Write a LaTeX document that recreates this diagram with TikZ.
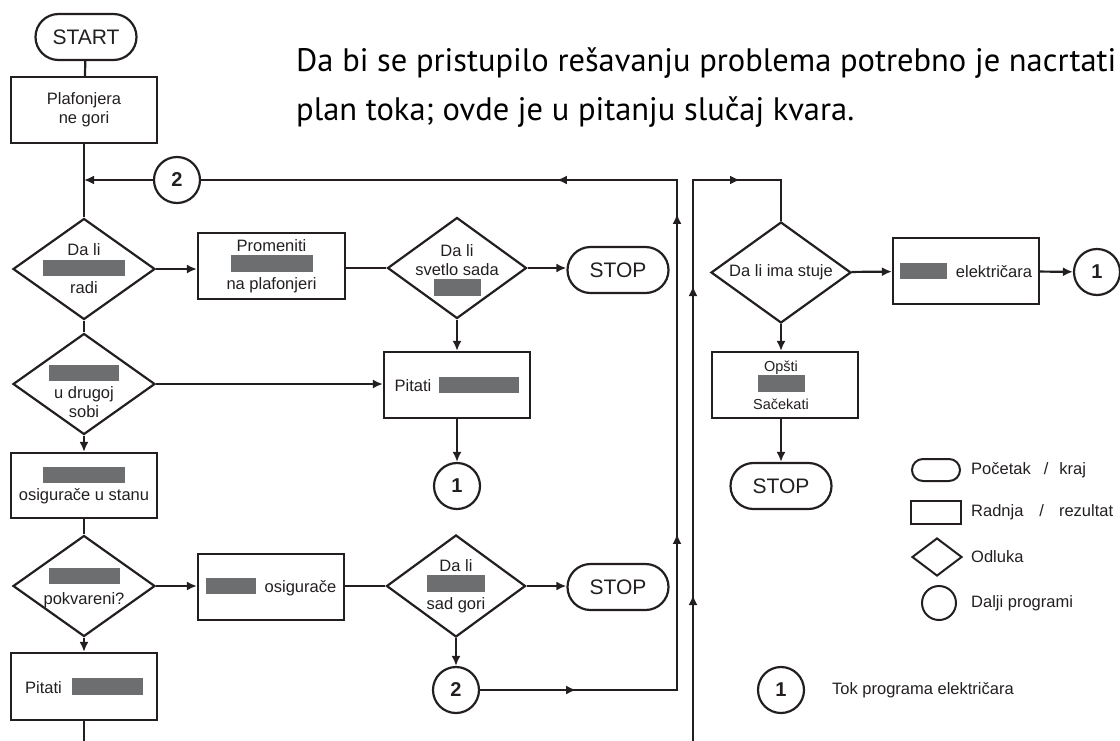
\documentclass[tikz,border=0pt]{standalone}
\usepackage{fontspec}
\setmainfont{Liberation Sans}
\newfontfamily\titlefont{PT Sans}
\usetikzlibrary{shapes.geometric,shapes.misc,arrows.meta,decorations.markings}
\definecolor{ink}{HTML}{231F20}
\definecolor{bargray}{HTML}{6D6E70}
\newcommand{\gbar}[1]{\textcolor{bargray}{\rule[-1.5pt]{#1}{16.5pt}}}
\tikzset{
  base/.style={draw=ink, line width=2.2pt, text=ink, inner sep=0pt, font=\fontsize{16.5}{19}\selectfont, align=center},
  box/.style={base, rectangle, minimum width=146pt, minimum height=66pt},
  dia/.style={base, diamond, minimum width=142pt, minimum height=101pt},
  term/.style={base, rounded rectangle, minimum width=101pt, minimum height=46pt, font=\fontsize{21}{24}\selectfont},
  conn/.style={base, circle, minimum size=46pt, font=\bfseries\fontsize{20}{24}\selectfont},
  dtext/.style={text=ink, inner sep=0pt, align=center, font=\fontsize{16.5}{19}\selectfont},
  conline/.style={draw=ink, line width=2.2pt},
  arr/.style={conline, -{Latex[length=10pt,width=9pt]}},
  midarrows/.style={postaction={decorate}, decoration={markings, #1}},
  leg/.style={text=ink, anchor=west, inner sep=0pt, font=\fontsize{16.5}{19}\selectfont},
  legshape/.style={draw=ink, line width=2pt, inner sep=0pt},
}
\newcommand{\midtip}{\arrow{Latex[length=10pt,width=9pt]}}
\begin{document}
\begin{tikzpicture}[x=1pt,y=-1pt]
\useasboundingbox (0,0) rectangle (1120,740);
% title
\node[anchor=north west, inner sep=0pt, align=left, text=black, font=\titlefont\fontsize{32.5}{48.5}\selectfont] (title) at (296,48)
  {Da bi se pristupilo rešavanju problema potrebno je nacrtati\\plan toka; ovde je u pitanju slučaj kvara.};
% left column
\node[term] (start) at (86,37) {START};
\node[box] (b1) at (84,110) {Plafonjera\\ne gori};
\coordinate (j1) at (84,180);
\node[conn] (c2t) at (177,180) {2};
\node[dia, label={[dtext]center:{Da li\\\gbar{82pt}\\radi}}] (d1) at (84,269) {};
\node[dia, label={[dtext, yshift=-7.5pt]center:{\gbar{71pt}\\u drugoj\\sobi}}] (d2) at (84,384) {};
\node[box, minimum height=65pt] (b3) at (84,485.5) {\gbar{82pt}\\osigurače u stanu};
\node[dia, label={[dtext, yshift=-2pt]center:{\gbar{71pt}\\[3pt]pokvareni?}}] (d3) at (84,586) {};
\node[box, minimum height=67pt] (pit2) at (84,686.5) {Pitati\hspace{10pt}\gbar{71pt}};
\coordinate (bot1) at (84,742);
% middle column
\node[box, minimum width=147pt] (p1) at (271.5,266) {Promeniti\\\gbar{82pt}\\na plafonjeri};
\node[dia, minimum width=139pt, label={[dtext, yshift=-2pt]center:{Da li\\svetlo sada\\\gbar{47pt}}}] (d4) at (457,268) {};
\node[term] (stop1) at (618,270) {STOP};
\node[box] (pit1) at (457,385) {Pitati\hspace{8pt}\gbar{80pt}};
\node[conn] (c1) at (457,486) {1};
\node[box] (b5) at (271,587) {\gbar{50pt}\hspace{9pt}osigurače};
\node[dia, minimum width=139pt, minimum height=102pt, label={[dtext]center:{Da li\\\gbar{58pt}\\sad gori}}] (d5) at (456,586) {};
\node[term] (stop2) at (618,587) {STOP};
\node[conn] (c2b) at (456,690) {2};
% right column
\node[dia, minimum width=140pt, label={[dtext]center:{Da li ima stuje}}] (d6) at (781,272.5) {};
\node[box] (b7) at (966,271) {\gbar{47pt}\hspace{9pt}električara};
\node[conn] (c3) at (1097,272) {1};
\node[box, label={[dtext, font=\fontsize{14.5}{19}\selectfont, xshift=-4pt]center:{Opšti\\\gbar{47pt}\\Sačekati}}] (b8) at (785,385) {};
\node[term] (stop3) at (781,486) {STOP};
\coordinate (k1) at (677,690);
\coordinate (k2) at (677,180);
\coordinate (r0) at (693,742);
\coordinate (r1) at (693,180);
\coordinate (r2) at (781,180);
% legend
\node[legshape, rounded rectangle, minimum width=48pt, minimum height=22pt] (l1) at (936,470) {};
\node[leg] (l1t) at (971,470) {Početak\hspace{13pt}/\hspace{11pt}kraj};
\node[legshape, rectangle, minimum width=50pt, minimum height=23pt] (l2) at (936,512.5) {};
\node[leg] (l2t) at (971,512) {Radnja\hspace{16pt}/\hspace{15pt}rezultat};
\node[legshape, diamond, minimum width=50pt, minimum height=38pt] (l3) at (937,557) {};
\node[leg] (l3t) at (971,557) {Odluka};
\node[legshape, circle, minimum size=34pt] (l4) at (939,603) {};
\node[leg] (l4t) at (971,603) {Dalji programi};
\node[conn] (c4) at (781,690) {1};
\node[leg] (c4t) at (832,690) {Tok programa električara};
% connectors
\draw[conline] (start) -- (b1);
\draw[conline] (b1) -- (d1);
\draw[arr] (c2t) -- (j1);
\draw[arr] (d1.east) -- (d1.east -| p1.west);
\draw[conline] (p1.east |- d4.west) -- (d4.west);
\draw[arr] (d4.east) -- (d4.east -| stop1.west);
\draw[arr] (d4) -- (pit1);
\draw[conline] (d1) -- (d2);
\draw[arr] (d2.east) -- (d2.east -| pit1.west);
\draw[arr] (pit1) -- (c1);
\draw[arr] (d2) -- (b3);
\draw[conline] (b3) -- (d3);
\draw[arr] (d3.east) -- (d3.east -| b5.west);
\draw[conline] (b5.east |- d5.west) -- (d5.west);
\draw[arr] (d5.east) -- (d5.east -| stop2.west);
\draw[arr] (d5) -- (c2b);
\draw[arr] (d3) -- (pit2);
\draw[conline] (pit2) -- (bot1);
\draw[conline, midarrows={mark=at position 96pt with {\midtip}, mark=at position 353pt with {\midtip}, mark=at position 673pt with {\midtip}, mark=at position 827pt with {\midtip}}]
  (c2b.east) -- (k1) -- (k2) -- (c2t.east);
\draw[conline, midarrows={mark=at position 147pt with {\midtip}, mark=at position 456pt with {\midtip}, mark=at position 609pt with {\midtip}}]
  (r0) -- (r1) -- (r2) -- (d6.north);
\draw[arr] (d6) -- (b7);
\draw[arr] (b7) -- (c3);
\draw[arr] (d6.south) -- (d6.south |- b8.north);
\draw[arr] (b8.south -| stop3) -- (stop3.north);
\end{tikzpicture}
\end{document}
